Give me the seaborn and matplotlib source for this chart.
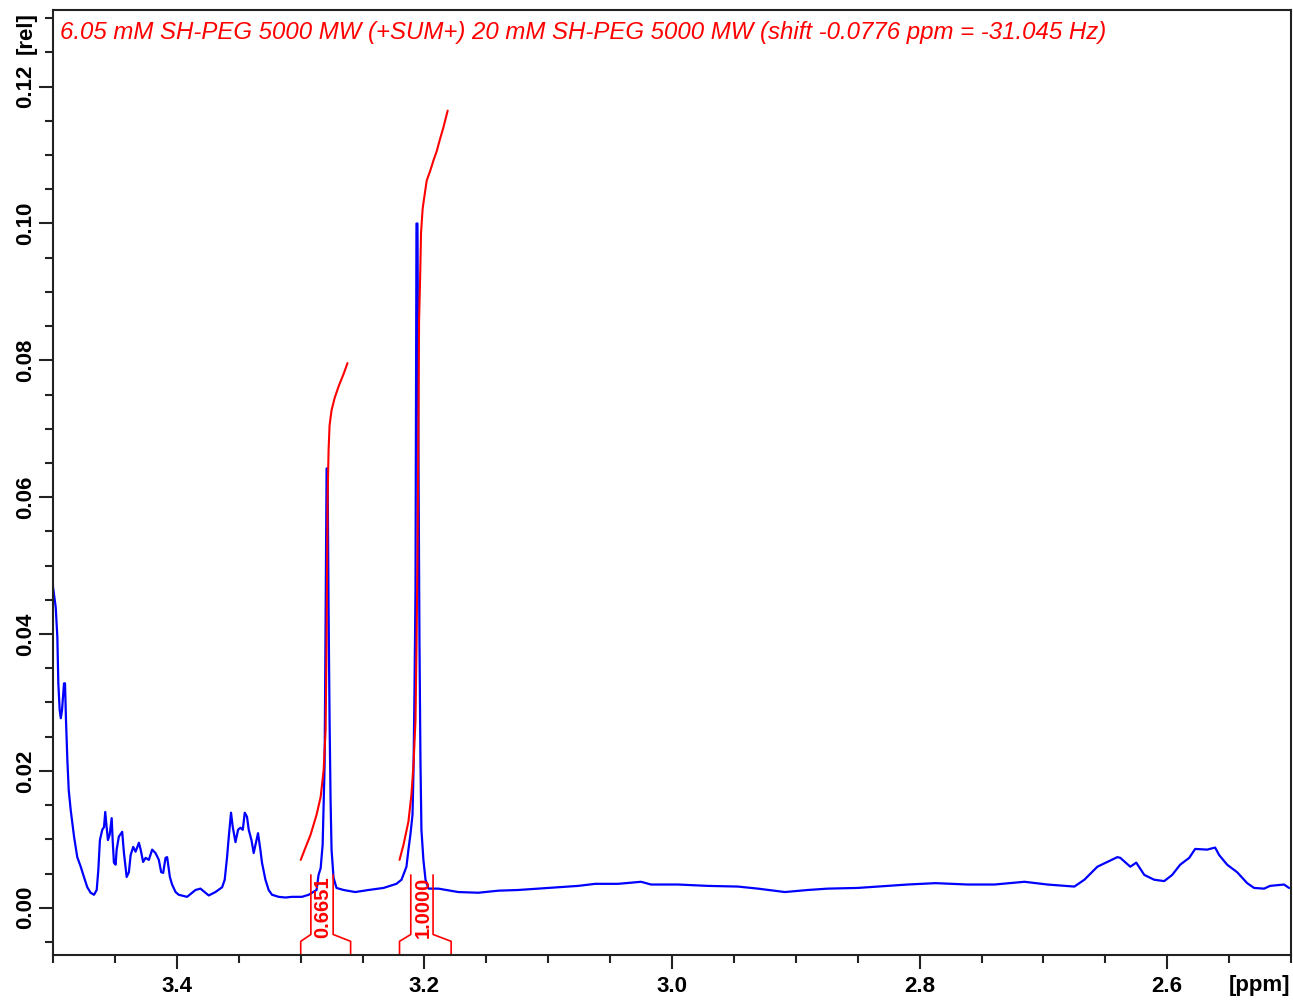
import matplotlib
matplotlib.use("Agg")
import matplotlib.pyplot as plt
from matplotlib.ticker import MultipleLocator, FormatStrFormatter
import pandas as pd
import seaborn as sns

# 1H NMR spectrum (ppm, relative intensity)
ppm = [3.5008, 3.5000, 3.4978, 3.4965, 3.4957, 3.4946, 3.4937, 3.4927, 3.4911, 3.4903,
       3.4895, 3.4884, 3.4873, 3.4857, 3.4844, 3.4830, 3.4817, 3.4804, 3.4776, 3.4750,
       3.4723, 3.4696, 3.4669, 3.4647, 3.4634, 3.4621, 3.4602, 3.4588, 3.4578, 3.4567,
       3.4556, 3.4542, 3.4526, 3.4518, 3.4508, 3.4494, 3.4486, 3.4468, 3.4441, 3.4427,
       3.4405, 3.4387, 3.4373, 3.4352, 3.4333, 3.4306, 3.4292, 3.4272, 3.4252, 3.4226,
       3.4199, 3.4172, 3.4145, 3.4126, 3.4110, 3.4091, 3.4078, 3.4056, 3.4038, 3.4010,
       3.3984, 3.3917, 3.3849, 3.3809, 3.3742, 3.3688, 3.3634, 3.3613, 3.3594, 3.3580,
       3.3562, 3.3548, 3.3526, 3.3505, 3.3486, 3.3467, 3.3451, 3.3433, 3.3419, 3.3397,
       3.3379, 3.3360, 3.3344, 3.3325, 3.3312, 3.3284, 3.3258, 3.3231, 3.3177, 3.3123,
       3.3070, 3.2989, 3.2935, 3.2908, 3.2871, 3.2855, 3.2838, 3.2822, 3.2814, 3.2806,
       3.2798, 3.2790, 3.2782, 3.2774, 3.2766, 3.2758, 3.2750, 3.2734, 3.2710, 3.2653,
       3.2559, 3.2451, 3.2330, 3.2226, 3.2185, 3.2145, 3.2129, 3.2113, 3.2096, 3.2088,
       3.2080, 3.2072, 3.2064, 3.2056, 3.2048, 3.2040, 3.2032, 3.2024, 3.2008, 3.1991,
       3.1967, 3.1887, 3.1726, 3.1564, 3.1403, 3.1242, 3.1000, 3.0758, 3.0621, 3.0435,
       3.0250, 3.0169, 2.9952, 2.9710, 2.9468, 2.9306, 2.9088, 2.8903, 2.8742, 2.8500,
       2.8339, 2.8097, 2.7871, 2.7613, 2.7395, 2.7153, 2.6968, 2.6750, 2.6669, 2.6564,
       2.6484, 2.6403, 2.6379, 2.6298, 2.6250, 2.6185, 2.6105, 2.6024, 2.5960, 2.5895,
       2.5822, 2.5774, 2.5677, 2.5613, 2.5580, 2.5516, 2.5435, 2.5354, 2.5298, 2.5217,
       2.5169, 2.5056, 2.5016]
rel = [0.0526, 0.0469, 0.0439, 0.0396, 0.0328, 0.0289, 0.0277, 0.0289, 0.0328, 0.0328,
       0.0274, 0.0216, 0.0172, 0.0143, 0.0124, 0.0104, 0.0089, 0.0074, 0.0060, 0.0045,
       0.0030, 0.0022, 0.0019, 0.0026, 0.0055, 0.0099, 0.0114, 0.0118, 0.0140, 0.0118,
       0.0099, 0.0107, 0.0131, 0.0099, 0.0066, 0.0063, 0.0085, 0.0104, 0.0111, 0.0080,
       0.0045, 0.0052, 0.0077, 0.0089, 0.0082, 0.0095, 0.0085, 0.0067, 0.0073, 0.0070,
       0.0085, 0.0080, 0.0070, 0.0052, 0.0051, 0.0073, 0.0074, 0.0045, 0.0034, 0.0023,
       0.0019, 0.0016, 0.0026, 0.0028, 0.0018, 0.0023, 0.0030, 0.0041, 0.0074, 0.0104,
       0.0139, 0.0118, 0.0096, 0.0114, 0.0117, 0.0114, 0.0139, 0.0133, 0.0114, 0.0099,
       0.0080, 0.0096, 0.0109, 0.0085, 0.0066, 0.0041, 0.0026, 0.0019, 0.0016, 0.0015,
       0.0016, 0.0016, 0.0019, 0.0022, 0.0026, 0.0048, 0.0058, 0.0092, 0.0150, 0.0209,
       0.0435, 0.0642, 0.0642, 0.0435, 0.0274, 0.0158, 0.0085, 0.0044, 0.0029, 0.0026,
       0.0023, 0.0026, 0.0029, 0.0035, 0.0041, 0.0060, 0.0085, 0.0107, 0.0136, 0.0201,
       0.0318, 0.0464, 0.1000, 0.1000, 0.0669, 0.0391, 0.0216, 0.0114, 0.0070, 0.0041,
       0.0028, 0.0028, 0.0023, 0.0022, 0.0025, 0.0026, 0.0029, 0.0032, 0.0035, 0.0035,
       0.0038, 0.0034, 0.0034, 0.0032, 0.0031, 0.0028, 0.0023, 0.0026, 0.0028, 0.0029,
       0.0031, 0.0034, 0.0036, 0.0034, 0.0034, 0.0038, 0.0034, 0.0031, 0.0041, 0.0060,
       0.0067, 0.0074, 0.0073, 0.0060, 0.0066, 0.0048, 0.0041, 0.0039, 0.0048, 0.0063,
       0.0073, 0.0086, 0.0085, 0.0088, 0.0077, 0.0063, 0.0052, 0.0036, 0.0029, 0.0028,
       0.0032, 0.0034, 0.0029]

# integral curves (drawn on the same scale)
int1_ppm = [3.2999, 3.2967, 3.2919, 3.2871, 3.2838, 3.2814, 3.2798, 3.2790, 3.2782,
            3.2774, 3.2766, 3.2750, 3.2725, 3.2693, 3.2653, 3.2621]
int1_rel = [0.0070, 0.0085, 0.0107, 0.0136, 0.0162, 0.0201, 0.0260, 0.0391, 0.0596,
            0.0669, 0.0705, 0.0727, 0.0745, 0.0762, 0.0780, 0.0796]
int2_ppm = [3.2201, 3.2169, 3.2129, 3.2105, 3.2088, 3.2072, 3.2064, 3.2056, 3.2048,
            3.2043, 3.2035, 3.2027, 3.2014, 3.1999, 3.1981, 3.1953, 3.1927, 3.1900,
            3.1873, 3.1847, 3.1812]
int2_rel = [0.0070, 0.0092, 0.0126, 0.0165, 0.0209, 0.0274, 0.0377, 0.0508, 0.0712,
            0.0858, 0.0917, 0.0987, 0.1022, 0.1041, 0.1063, 0.1077, 0.1092, 0.1106,
            0.1124, 0.1140, 0.1165]

# integration regions: (outer start, outer end, box centre, label)
regions = [(3.2999, 3.2596, 3.2827, "0.6651"),
           (3.2201, 3.1784, 3.2020, "1.0000")]

title = "6.05 mM SH-PEG 5000 MW (+SUM+) 20 mM SH-PEG 5000 MW (shift -0.0776 ppm = -31.045 Hz)"

sns.set_theme(style="ticks")
plt.rcParams["font.family"] = ["Liberation Sans", "DejaVu Sans"]

fig = plt.figure(figsize=(12.93, 10.01), dpi=100)
ax = fig.add_axes([53 / 1293, 1 - 955 / 1001, 1238 / 1293, 945 / 1001])

spec = pd.DataFrame({"ppm": ppm, "rel": rel})
sns.lineplot(data=spec, x="ppm", y="rel", color="#0000ff", lw=1.6,
             sort=False, estimator=None, ax=ax)
for xs, ys in [(int1_ppm, int1_rel), (int2_ppm, int2_rel)]:
    sns.lineplot(x=xs, y=ys, color="#ff0000", lw=1.5, sort=False,
                 estimator=None, ax=ax)

ymin, ymax = -0.0069, 0.1312
ax.set_xlim(3.5, 2.5)
ax.set_ylim(ymin, ymax)

# integral brackets under the peaks
half = 0.0090
for x0, x1, xc, lab in regions:
    top, knee, foot = 0.0048, -0.0039, -0.0049
    ax.plot([x0, x0, xc + half, xc + half], [ymin, foot, knee, top], color="#ff0000", lw=1.2)
    ax.plot([x1, x1, xc - half, xc - half], [ymin, foot, knee, top], color="#ff0000", lw=1.2)
    ax.text(xc - 0.0008, 0.0001, lab, rotation=90, ha="center", va="center",
            color="#ff0000", fontsize=14.5, fontweight="bold")

ax.xaxis.set_major_locator(MultipleLocator(0.2))
ax.xaxis.set_minor_locator(MultipleLocator(0.05))
ax.yaxis.set_major_locator(MultipleLocator(0.02))
ax.yaxis.set_minor_locator(MultipleLocator(0.005))
ax.xaxis.set_major_formatter(FormatStrFormatter("%.1f"))
ax.yaxis.set_major_formatter(FormatStrFormatter("%.2f"))
ax.set_xlabel("")
ax.set_ylabel("")

ax.tick_params(which="major", length=10, width=1.5, color="#222222",
               labelsize=16, labelcolor="black", pad=5)
ax.tick_params(axis="y", which="major", pad=2)
ax.tick_params(which="minor", length=5.8, width=1.5, color="#222222")
for lab in ax.get_xticklabels() + ax.get_yticklabels():
    lab.set_fontweight("bold")
for lab in ax.get_yticklabels():
    lab.set_rotation(90)
    lab.set_va("center")

for sp in ax.spines.values():
    sp.set_color("#222222")
    sp.set_linewidth(1.5)
    sp.set_visible(True)

fig.text(60 / 1293, 1 - 33 / 1001, title, ha="left", va="center", color="#ff0000",
         fontsize=17.3, fontstyle="italic")
fig.text(26 / 1293, 1 - 33 / 1001, "[rel]", rotation=90, ha="center", va="center",
         fontsize=16, fontweight="bold", color="black")
fig.text(1259 / 1293, 1 - 985 / 1001, "[ppm]", ha="center", va="center",
         fontsize=16, fontweight="bold", color="black")

fig.savefig("out.png", dpi=100)
